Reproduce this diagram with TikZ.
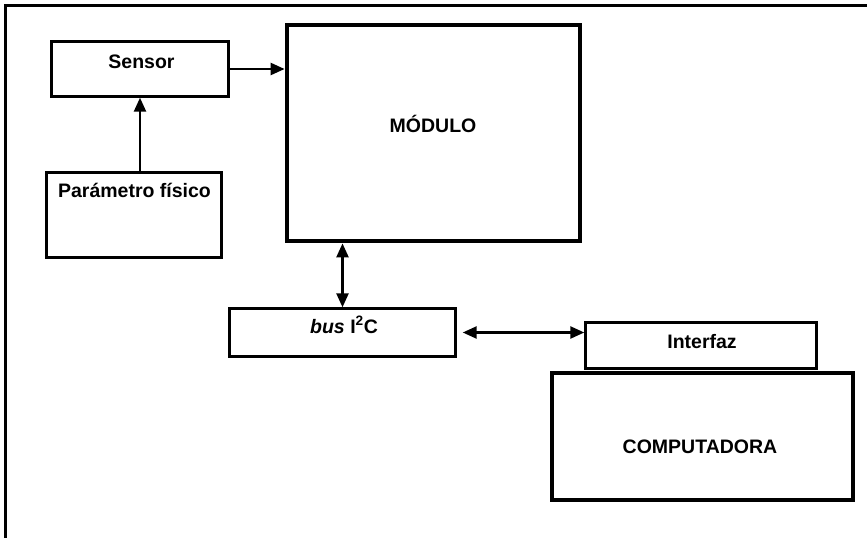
\documentclass[tikz,border=0pt]{standalone}
\usepackage{fontspec}
\setmainfont{Liberation Sans}
\usetikzlibrary{arrows.meta}
\tikzset{caja/.style={draw, line width=2.4pt, inner sep=0pt},
  cajagruesa/.style={draw, line width=4.8pt, inner sep=0pt},
  rotulo/.style={font=\fontsize{19.5}{23}\selectfont\bfseries, anchor=base, inner sep=0pt},
  flecha/.style={line width=2.4pt, -{Triangle[length=14pt,width=12pt]}},
  dobleflecha/.style={line width=2.4pt, {Triangle[length=14pt,width=12pt]}-{Triangle[length=14pt,width=12pt]}}}

\begin{document}
\begin{tikzpicture}[x=1pt,y=-1pt]
\useasboundingbox (0,0) rectangle (867,538);
% marco
\draw [line width=3pt] (867,5.5) -- (5.5,5.5) -- (5.5,538);
% cajas
\node (sensor) [caja, minimum width=177pt, minimum height=55pt] at (140,69) {};
\node (param) [caja, minimum width=175pt, minimum height=85pt] at (134,215) {};
\node (modulo) [cajagruesa, minimum width=293pt, minimum height=216pt] at (433.5,133) {};
\node (bus) [caja, minimum width=226pt, minimum height=48pt] at (342.5,332.5) {};
\node (interfaz) [caja, minimum width=231pt, minimum height=46pt] at (701,345.5) {};
\node (comp) [cajagruesa, minimum width=301pt, minimum height=127pt] at (702.5,436.5) {};
% textos
\node (tsensor) [rotulo] at (141.5,68) {Sensor};
\node (tparam) [rotulo] at (134.5,197) {Parámetro físico};
\node (tmodulo) [rotulo] at (433,132) {MÓDULO};
\node (tbus) [rotulo] at (344,333) {\itshape bus\/ \upshape I\textsuperscript{2}C};
\node (tinterfaz) [rotulo] at (702,348) {Interfaz};
\node (tcomp) [rotulo] at (700,453) {COMPUTADORA};
% conexiones
\draw [flecha] (param.north -| sensor.south) -- (sensor.south);
\draw [flecha] (sensor.east) -- (sensor.east -| modulo.west);
\draw [dobleflecha] (modulo.south -| bus.north) -- (bus.north);
\draw [dobleflecha, shorten <=6pt] (bus.east) -- (bus.east -| interfaz.west);
\end{tikzpicture}
\end{document}
